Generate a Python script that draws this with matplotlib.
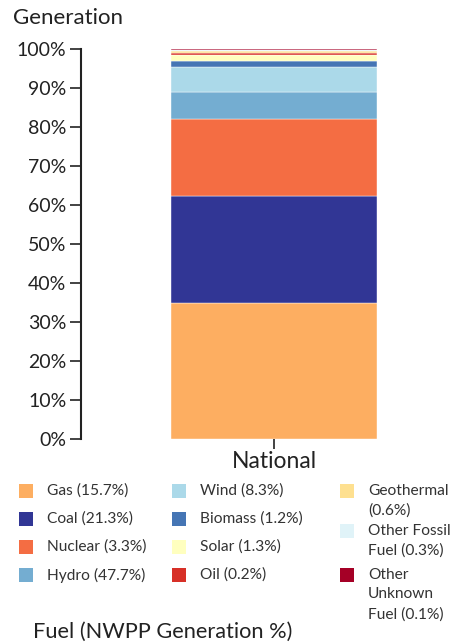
import matplotlib
matplotlib.use("Agg")
import matplotlib.pyplot as plt
from matplotlib.patches import Rectangle

# ---- data ----
categories = ["National"]
fuels = ["Gas", "Coal", "Nuclear", "Hydro", "Wind", "Biomass", "Solar", "Oil",
         "Geothermal", "Other Fossil Fuel", "Other Unknown Fuel"]
national_pct = [35.0, 27.4, 19.6, 6.9, 6.4, 1.7, 1.5, 0.5, 0.4, 0.3, 0.3]
nwpp_pct = [15.7, 21.3, 3.3, 47.7, 8.3, 1.2, 1.3, 0.2, 0.6, 0.3, 0.1]
colors = ["#fdae61", "#313695", "#f46d43", "#74add1", "#abd9e9", "#4575b4",
          "#ffffbf", "#d73027", "#fee090", "#e0f3f8", "#a50026"]
legend_labels = ["Gas (15.7%)", "Coal (21.3%)", "Nuclear (3.3%)", "Hydro (47.7%)",
                 "Wind (8.3%)", "Biomass (1.2%)", "Solar (1.3%)", "Oil (0.2%)",
                 "Geothermal\n(0.6%)", "Other Fossil\nFuel (0.3%)", "Other\nUnknown\nFuel (0.1%)"]
yticks = list(range(0, 101, 10))

plt.rcParams['font.family'] = ['Lato', 'DejaVu Sans']
W, H = 455, 643
fig = plt.figure(figsize=(W / 100, H / 100), dpi=100)

def fx(px):
    return px / W

def fy(py):
    return 1 - py / H

# axes: left spine at x=81, top 100% at y=49, 0% at y=439
ax_left, ax_right = 81, 455
ax_top, ax_bot = 49, 439
ax = fig.add_axes([fx(ax_left), fy(ax_bot), (ax_right - ax_left) / W, (ax_bot - ax_top) / H])
scale = 193.0
ax.set_xlim(-(274 - ax_left) / scale, (ax_right - 274) / scale)
ax.set_ylim(0, 100)

bottom = 0
for f, v, c in zip(fuels, national_pct, colors):
    ax.bar(0, v, bottom=bottom, width=(377 - 171) / scale, color=c,
           edgecolor="white", linewidth=0.3)
    bottom += v

for s in ["top", "right", "bottom"]:
    ax.spines[s].set_visible(False)
ax.spines["left"].set_linewidth(1.5)
ax.spines["left"].set_color("#222222")
ax.set_yticks(yticks)
ax.set_yticklabels([f"{t}%" for t in yticks], fontsize=14, color="#222222")
ax.tick_params(axis="y", length=8, width=1.2, color="#222222", pad=2.5)
ax.set_xticks([0])
ax.set_xticklabels(categories, fontsize=16.5, color="#222222")
ax.tick_params(axis="x", length=7, width=1.2, color="#222222", pad=2)

fig.text(fx(13), fy(18), "Generation", fontsize=16, color="#222222", va="center", ha="left")

# legend (manual, 3 columns)
sq = 14
col_sq_x = [19, 172, 340]
col_txt_x = [47, 200, 368]
row_y = [491, 519, 547, 575]
col3_y = [491, 531, 575]
positions = []
for i in range(4):
    positions.append((0, row_y[i]))
for i in range(4):
    positions.append((1, row_y[i]))
for i in range(3):
    positions.append((2, col3_y[i]))

for lab, c, (col, yc) in zip(legend_labels, colors, positions):
    fig.patches.append(Rectangle((fx(col_sq_x[col]), fy(yc + sq / 2)), sq / W, sq / H,
                                 transform=fig.transFigure, facecolor=c, edgecolor="none"))
    if "\n" in lab:
        fig.text(fx(col_txt_x[col]), fy(yc - 7), lab, fontsize=11.2, color="#333333",
                 va="top", ha="left", linespacing=1.5)
    else:
        fig.text(fx(col_txt_x[col]), fy(yc), lab, fontsize=11.2, color="#333333",
                 va="center", ha="left")

fig.text(fx(33), fy(632), "Fuel (NWPP Generation %)", fontsize=15.7, color="#222222",
         va="center", ha="left")

fig.savefig("out.png", dpi=100)
